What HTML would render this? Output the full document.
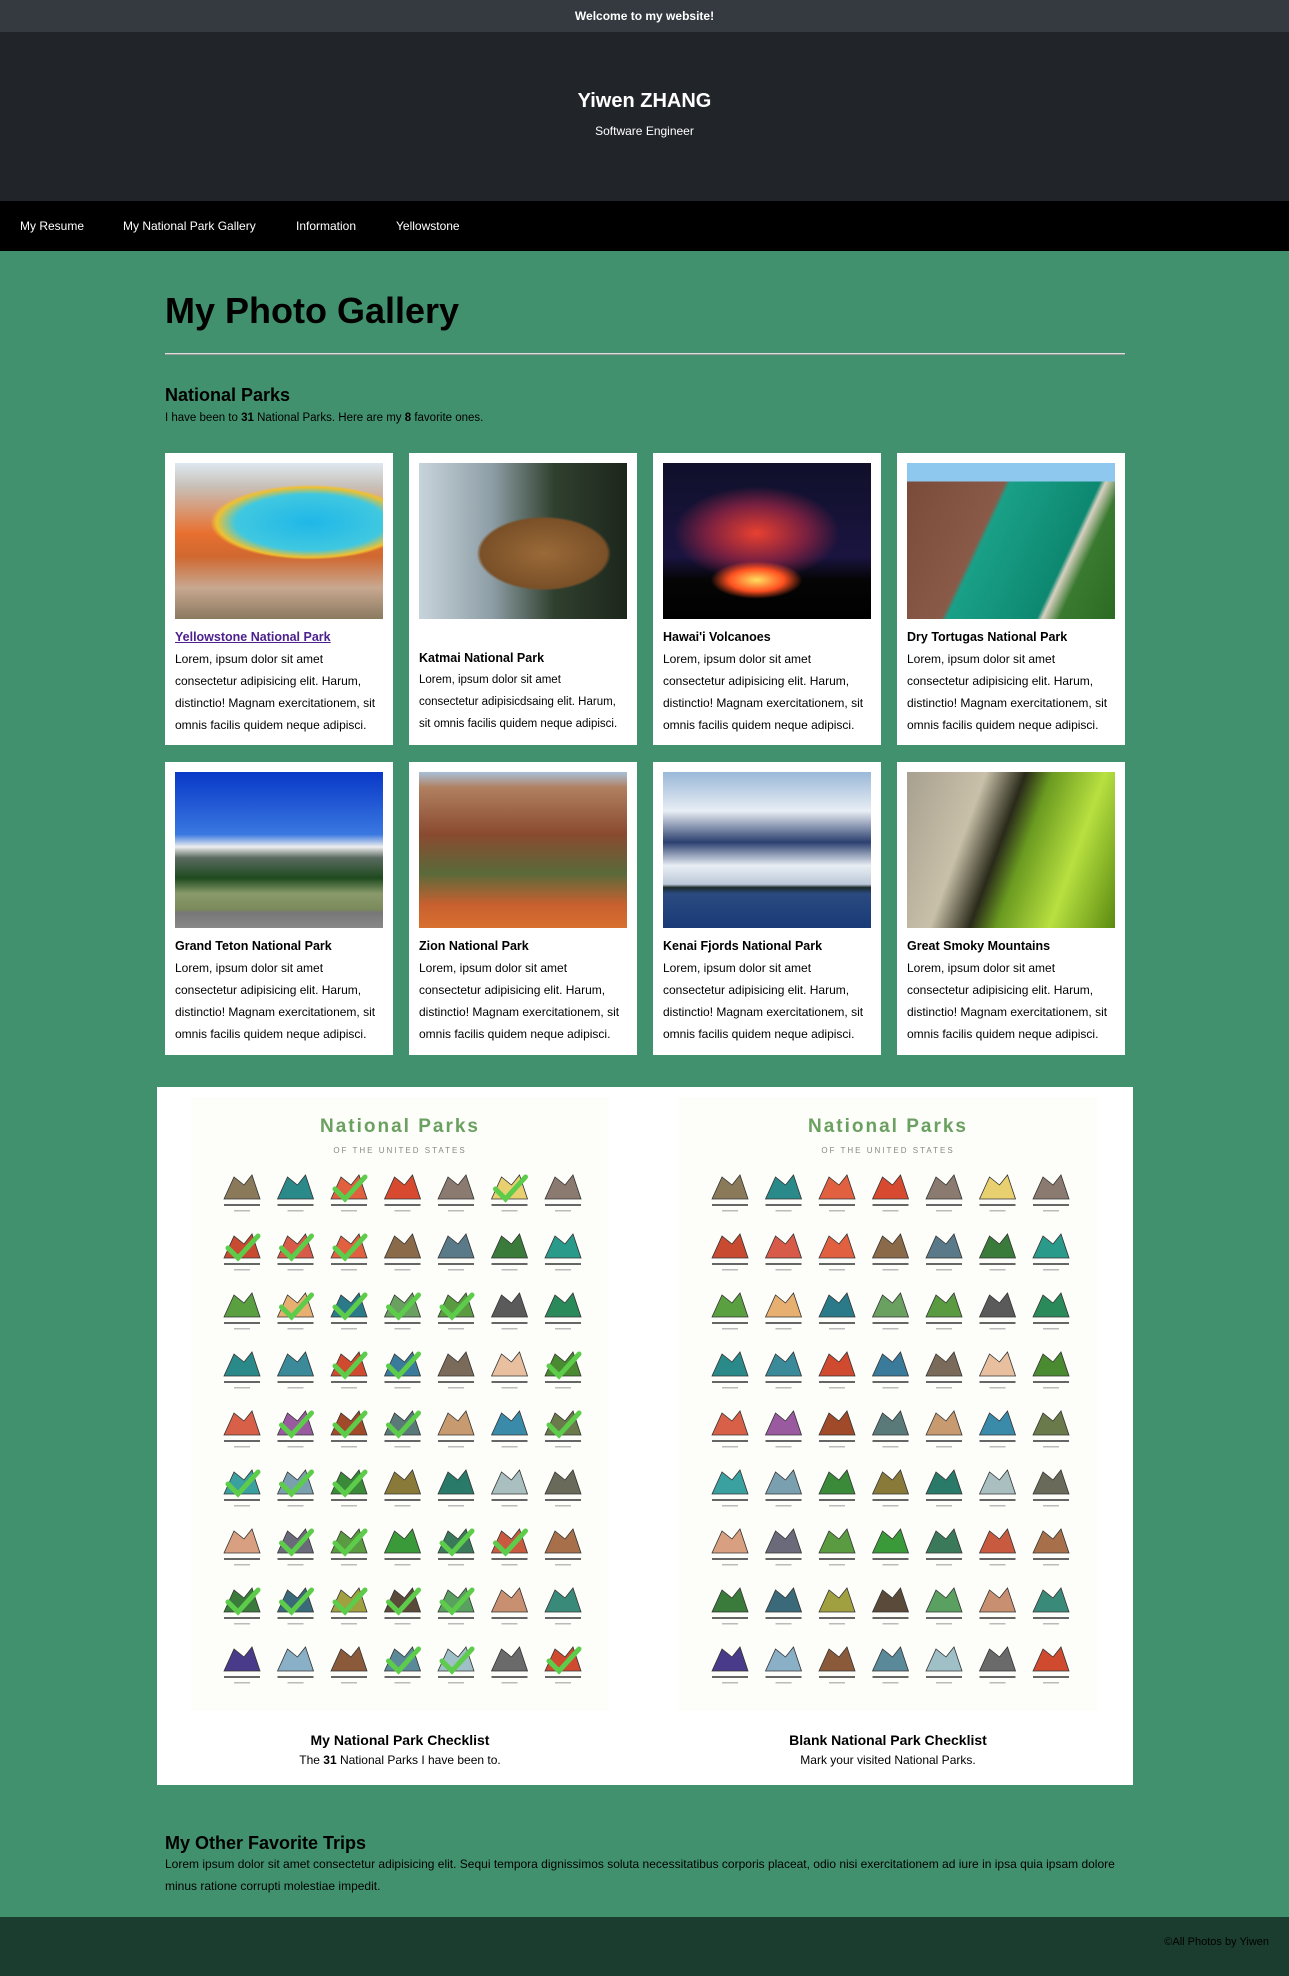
<!DOCTYPE html>
<html><head><meta charset="utf-8">
<style>
*{margin:0;padding:0;box-sizing:border-box}
body{width:1289px;height:1976px;position:relative;background:#42916e;font-family:"Liberation Sans",Arial,sans-serif;color:#000;overflow:hidden}
.abs{position:absolute}
#topbar{left:0;top:0;width:1289px;height:32px;background:#343a40;color:#fff;font-weight:bold;font-size:12px;text-align:center;line-height:32px}
#header{left:0;top:32px;width:1289px;height:169px;background:#212529;color:#fff;text-align:center}
#header h1{position:absolute;top:56px;width:100%;font-size:20px;line-height:26px}
#header p{position:absolute;top:91px;width:100%;font-size:12px;line-height:16px}
#nav{left:0;top:201px;width:1289px;height:50px;background:#000}
#nav a{position:absolute;top:0;line-height:50px;color:#fff;font-size:12px;text-decoration:none}
h2.big{left:165px;top:289px;font-size:36px;line-height:44px}
#hr{left:165px;top:353px;width:960px;height:2px;background:#ddd;border-bottom:1px solid #999}
.card{position:absolute;width:228px;background:#fff}
.card .ph{position:absolute;left:10px;top:10px;width:208px;height:156px;overflow:hidden}
.card h3{position:absolute;left:10px;font-size:12.5px;line-height:22px;white-space:nowrap}
.card h3 a{color:#4b1f8c}
.card p{position:absolute;left:10px;width:215px;font-size:12px;line-height:22px;white-space:nowrap}
#check{left:157px;top:1087px;width:976px;height:698px;background:#fff}
.cap{position:absolute;width:420px;text-align:center}
.cap b{display:block;font-size:14px;line-height:20px}
.cap span{display:block;font-size:12px;line-height:20px}
#footer{left:0;top:1917px;width:1289px;height:59px;background:#1b3d2f}
</style></head><body>
<div id="topbar" class="abs">Welcome to my website!</div>
<div id="header" class="abs">
<h1>Yiwen ZHANG</h1>
<p>Software Engineer</p>
</div>
<div id="nav" class="abs">
<a href="#" style="left:20px">My Resume</a>
<a href="#" style="left:123px">My National Park Gallery</a>
<a href="#" style="left:296px">Information</a>
<a href="#" style="left:396px">Yellowstone</a>
</div>
<h2 class="abs big">My Photo Gallery</h2>
<div id="hr" class="abs"></div>
<div class="abs" style="left:165px;top:384px;font-size:18px;font-weight:bold;line-height:22px">National Parks</div>
<div class="abs" style="left:165px;top:410px;font-size:11.5px;line-height:16px">I have been to <b>31</b> National Parks. Here are my <b>8</b> favorite ones.</div>

<div id="cards"></div>

<div id="check" class="abs">
<svg id="cl1" class="abs" style="left:34px;top:10px" width="418" height="614"></svg>
<svg id="cl2" class="abs" style="left:522px;top:10px" width="418" height="614"></svg>
<div class="cap" style="left:33px;top:643px"><b>My National Park Checklist</b><span>The <b style="display:inline;font-size:12px">31</b> National Parks I have been to.</span></div>
<div class="cap" style="left:521px;top:643px"><b>Blank National Park Checklist</b><span>Mark your visited National Parks.</span></div>
</div>

<div class="abs" style="left:165px;top:1832px;font-size:18px;font-weight:bold;line-height:22px">My Other Favorite Trips</div>
<div class="abs" style="left:165px;top:1853px;width:1000px;font-size:12px;line-height:22px;white-space:nowrap">Lorem ipsum dolor sit amet consectetur adipisicing elit. Sequi tempora dignissimos soluta necessitatibus corporis placeat, odio nisi exercitationem ad iure in ipsa quia ipsam dolore<br>minus ratione corrupti molestiae impedit.</div>
<div id="footer" class="abs"><div class="abs" style="right:20px;top:19px;font-size:11px;color:#000">©All Photos by Yiwen</div></div>

<script>
const parkNames=["Yellowstone National Park","Katmai National Park","Hawai'i Volcanoes","Dry Tortugas National Park","Grand Teton National Park","Zion National Park","Kenai Fjords National Park","Great Smoky Mountains"];
const parkKeys=["yellowstone","katmai","hawaii-volcanoes","dry-tortugas","grand-teton","zion","kenai-fjords","great-smoky"];
const photos=[
"radial-gradient(ellipse 60% 30% at 65% 38%,#1fb7e8 0,#40c8e0 60%,#f0c030 75%,transparent 80%),linear-gradient(180deg,#dde8f0 0,#c8c0b8 15%,#e87030 45%,#d06830 60%,#c8a890 80%,#8a7a60 100%)",
"radial-gradient(ellipse 38% 28% at 60% 58%,#9a6a38 0,#7a5028 80%,transparent 85%),linear-gradient(90deg,#c8d4dc 0,#8e9ea6 35%,#30402e 65%,#1c261c 100%)",
"radial-gradient(ellipse 22% 12% at 45% 75%,#ffe060 0,#ff5020 60%,transparent 100%),radial-gradient(ellipse 40% 30% at 45% 45%,#e84030 0,#7a2040 60%,transparent 100%),linear-gradient(180deg,#10102a 0,#1a1440 60%,#050505 75%,#000 100%)",
"linear-gradient(180deg,#8ec8ee 0,#8ec8ee 12%,transparent 12%),linear-gradient(115deg,#7a4a38 0,#8a5a48 38%,#1aa088 40%,#0e8870 72%,#d8d0c0 74%,#3a7a30 80%,#2a6a22 100%)",
"linear-gradient(180deg,#0838c8 0,#3a78e0 40%,#eee 48%,#5a6a60 55%,#1e4a1e 68%,#8a9a6a 78%,#7a8a5a 88%,#777 90%,#888 100%)",
"linear-gradient(180deg,#a8c0d8 0,#b08060 10%,#8a4a30 40%,#5a6a3a 65%,#c86030 85%,#d87030 100%)",
"linear-gradient(180deg,#9ab8d8 0,#e8eef4 25%,#2c4070 45%,#e8eef4 60%,#bcc8d8 72%,#1a2a2a 74%,#2a4a80 78%,#1a3a78 100%)",
"linear-gradient(110deg,#a8a090 0,#c8c0a8 30%,#2a2a1a 45%,#6a9a20 55%,#b8e040 75%,#5a8a10 100%)"];
const cardTops=[453,453,453,453,762,762,762,762];
const stdText='Lorem, ipsum dolor sit amet<br>consectetur adipisicing elit. Harum,<br>distinctio! Magnam exercitationem, sit<br>omnis facilis quidem neque adipisci.';
const katText='Lorem, ipsum dolor sit amet<br>consectetur adipisicdsaing elit. Harum,<br>sit omnis facilis quidem neque adipisci.';
const cont=document.getElementById('cards');
for(let i=0;i<8;i++){
 const c=document.createElement('div');
 c.className='card';
 
 
 c.style.left=(165+(i%4)*244)+'px';c.style.top=cardTops[i]+'px';c.style.height=(i<4?292:293)+'px';
 const off=i===1?21:0;
 c.innerHTML='<div class="ph" style="background:'+photos[i]+'"></div><h3 style="top:'+(173+off)+'px">'+(i===0?'<a href="#">'+parkNames[i]+'</a>':parkNames[i])+'</h3><p style="top:'+(195+off)+'px'+(i===1?';font-size:11.5px':'')+'">'+(i===1?katText:stdText)+'</p>';
 const ph=c.querySelector('.ph');
 
 
 const h=c.querySelector('h3');
 
 
 const p=c.querySelector('p');
 
 
 cont.appendChild(c);
}
const iconColors=["#8a7a5a","#2a8a8a","#e06040","#d84a30","#8a7a70","#e8d070","#8a7a70",
"#c84a30","#d85a48","#e06040","#8a6a48","#5a7a8a","#3a7a3a","#2a9a8a",
"#5aa040","#e8b070","#2a7a8a","#6aa060","#5a9a40","#5a5a5a","#2a8a5a",
"#2a8a8a","#3a8a9a","#d04a30","#3a7a9a","#7a6a5a","#e8c0a0","#4a8a30",
"#d86048","#9a5aa0","#a04a2a","#5a7a7a","#c89a70","#3a8aaa","#6a7a4a",
"#3aa0a0","#7aa0b0","#3a8a3a","#8a7a3a","#2a7a6a","#aac0c0","#6a6a5a",
"#d8a080","#6a6a7a","#5a9a40","#3a9a3a","#3a7a5a","#c85a40","#a8704a",
"#3a7a3a","#3a6a7a","#a0a040","#5a4a3a","#5aa060","#c89070","#3a8a7a",
"#4a3a8a","#8ab0c8","#8a5a3a","#5a8a9a","#a0c0c8","#6a6a6a","#d04a30"];
const checked=[0,0,1,0,0,1,0, 1,1,1,0,0,0,0, 0,1,1,1,1,0,0, 0,0,1,1,0,0,1, 0,1,1,1,0,0,1, 1,1,1,0,0,0,0, 0,1,1,0,1,1,0, 1,1,1,1,1,0,0, 0,0,0,1,1,0,1];
function drawChecklist(svg,showChecks){
 const ns='http://www.w3.org/2000/svg';
 const mk=(t,a)=>{const e=document.createElementNS(ns,t);for(const k in a)e.setAttribute(k,a[k]);svg.appendChild(e);return e;};
 mk('rect',{x:0,y:0,width:418,height:614,fill:'#fdfdfa'});
 const t=mk('text',{x:209,y:35,'text-anchor':'middle','font-size':'19','font-weight':'bold',fill:'#6aa060','font-family':'Liberation Sans, sans-serif','letter-spacing':'2'});t.textContent='National Parks';
 
 
 const s=mk('text',{x:209,y:56,'text-anchor':'middle','font-size':'8',fill:'#888','font-family':'Liberation Sans, sans-serif','letter-spacing':'2'});s.textContent='OF THE UNITED STATES';
 
 
 for(let r=0;r<9;r++)for(let col=0;col<7;col++){
  const k=r*7+col,cx=51+col*53.5,cy=92+r*59;
  const ic=mk('path',{d:'M'+(cx-18)+' '+(cy+10)+' L'+(cx-8)+' '+(cy-12)+' L'+(cx+2)+' '+(cy-4)+' L'+(cx+10)+' '+(cy-14)+' L'+(cx+18)+' '+(cy+10)+' Z',fill:iconColors[k],stroke:'#333','stroke-width':'0.8'});
  
  
  mk('rect',{x:cx-18,y:cy+15,width:36,height:2,fill:'#666'});
  mk('rect',{x:cx-8,y:cy+21,width:16,height:1.5,fill:'#bbb'});
  if(showChecks&&checked[k]){
   const ck=mk('path',{d:'M'+(cx-14)+' '+(cy)+' L'+(cx-4)+' '+(cy+10)+' L'+(cx+16)+' '+(cy-12),fill:'none',stroke:'#5ccc4a','stroke-width':'5','stroke-linecap':'round'});
   
   
  }
 }
}
drawChecklist(document.getElementById('cl1'),true);
drawChecklist(document.getElementById('cl2'),false);
</script>
</body></html>
